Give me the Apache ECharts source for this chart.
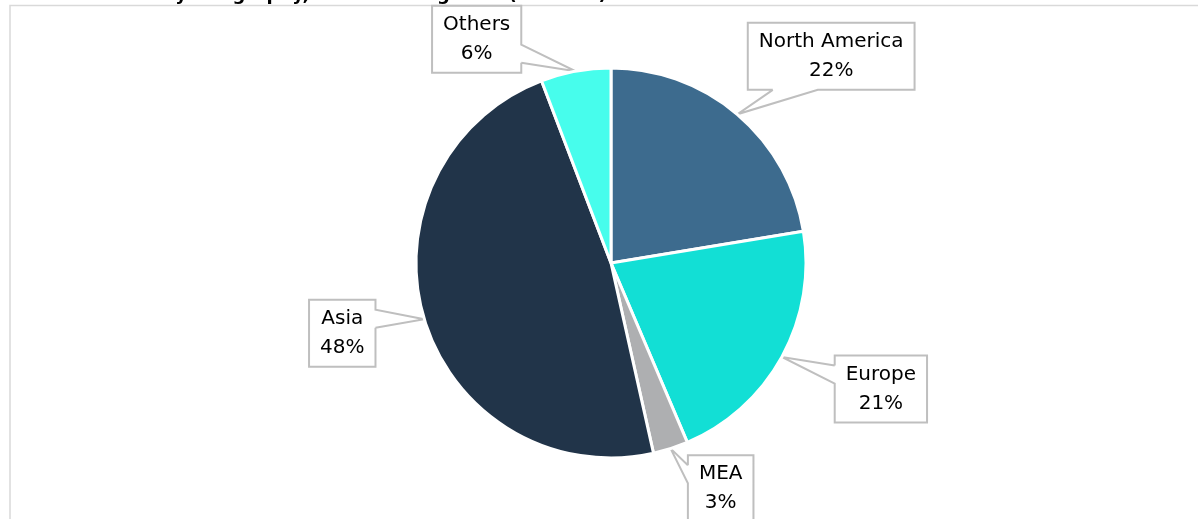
<!DOCTYPE html>
<html>
<head>
<meta charset="utf-8">
<title>Geography share</title>
<script src="https://cdn.jsdelivr.net/npm/echarts@6/dist/echarts.min.js"></script>
<style>
  html, body { margin: 0; padding: 0; background: #fff; }
  #main { width: 1198px; height: 519px; }
</style>
</head>
<body>
<div id="main"></div>
<script>
// data
var regions = ['North America', 'Europe', 'MEA', 'Asia', 'Others'];
var shares = [22.4, 21.2, 2.9, 47.7, 5.8];

// styling
var sliceColors = ['#3d6b8e', '#12dfd5', '#aeafb1', '#213449', '#47fdec'];
// where each callout box sits, relative to the point on its slice
var calloutOffsets = [[94, -58], [99, 32], [50, 40], [-82, 14], [-99, -32]];

// box outline with a wedge tail pointing at the slice (excel style callout)
function calloutPath(r, tip) {
    var c = [[r.x, r.y], [r.x + r.width, r.y], [r.x + r.width, r.y + r.height], [r.x, r.y + r.height]];
    var nx = (tip[0] - r.x - r.width / 2) / (r.width / 2);
    var ny = (tip[1] - r.y - r.height / 2) / (r.height / 2);
    var e;
    if (Math.abs(ny) >= Math.abs(nx)) e = ny < 0 ? 0 : 2;
    else e = nx > 0 ? 1 : 3;
    var a = c[e], b = c[(e + 1) % 4];
    var vx = b[0] - a[0], vy = b[1] - a[1];
    var t = ((tip[0] - a[0]) * vx + (tip[1] - a[1]) * vy) / (vx * vx + vy * vy);
    var f1 = t < 0.5 ? 0.15 : 0.58, f2 = f1 + 0.27;
    function at(f) { return [a[0] + vx * f, a[1] + vy * f]; }
    return [at(f2), b, c[(e + 2) % 4], c[(e + 3) % 4], a, at(f1), tip, at(f2)];
}

var chart = echarts.init(document.getElementById('main'));

var pieData = regions.map(function (name, i) {
    return { name: name, value: shares[i], itemStyle: { color: sliceColors[i] } };
});

var option = {
    animation: false,
    title: {
        text: 'Revenue Share by Geography, Business Segment (FY 2023)',
        left: -2,
        top: -19,
        textStyle: { fontFamily: 'DejaVu Sans', fontSize: 18, fontWeight: 'bold', color: '#000' }
    },
    graphic: [{
        type: 'polyline',
        shape: { points: [[10, 519], [10, 5.5], [1198, 5.5]] },
        style: { stroke: '#d9d9d9', lineWidth: 1.5, fill: null },
        silent: true
    }],
    series: [{
        type: 'pie',
        center: [611, 263],
        radius: 195,
        startAngle: 90,
        clockwise: true,
        percentPrecision: 0,
        avoidLabelOverlap: false,
        itemStyle: { borderColor: '#fff', borderWidth: 3 },
        emphasis: { disabled: true },
        label: {
            show: true,
            position: 'outside',
            formatter: '{b}\n{d}%',
            fontFamily: 'DejaVu Sans',
            fontSize: 20,
            lineHeight: 29,
            color: '#000',
            padding: [6, 11, 3, 11]
        },
        labelLine: {
            show: true,
            length: 10,
            length2: 10,
            lineStyle: { color: '#bfbfbf', width: 2 }
        },
        labelLayout: function (params) {
            var tip = params.labelLinePoints[0];
            var off = calloutOffsets[params.dataIndex];
            var w = params.labelRect.width, h = params.labelRect.height;
            var cx = tip[0] + off[0], cy = tip[1] + off[1];
            var box = { x: cx - w / 2, y: cy - h / 2, width: w, height: h };
            return {
                x: cx,
                y: cy,
                align: 'center',
                verticalAlign: 'middle',
                labelLinePoints: calloutPath(box, tip)
            };
        },
        data: pieData
    }]
};

chart.setOption(option);
</script>
</body>
</html>
